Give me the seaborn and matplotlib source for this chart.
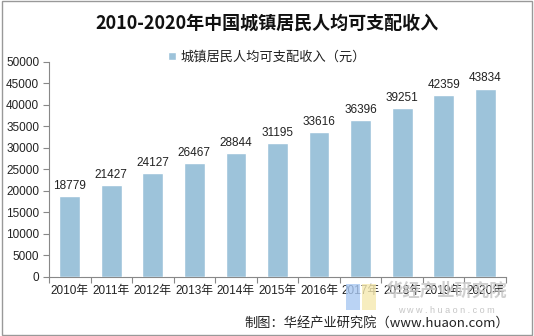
import matplotlib
matplotlib.use("Agg")
import matplotlib.pyplot as plt
import seaborn as sns
import pandas as pd
import numpy as np
from matplotlib.patches import Rectangle

years = ["2010年", "2011年", "2012年", "2013年", "2014年", "2015年",
         "2016年", "2017年", "2018年", "2019年", "2020年"]
income = [18779, 21427, 24127, 26467, 28844, 31195, 33616, 36396, 39251, 42359, 43834]
series_name = "城镇居民人均可支配收入（元）"
title = "2010-2020年中国城镇居民人均可支配收入"
source = "制图：华经产业研究院（www.huaon.com）"
yticks = list(range(0, 50001, 5000))

sns.set_theme(style="white")
plt.rcParams['font.family'] = ['Liberation Sans', 'Noto Sans CJK SC', 'DejaVu Sans']
plt.rcParams['axes.unicode_minus'] = False

df = pd.DataFrame({"year": years, "income": income})
bar_color = "#9DC3DA"

fig = plt.figure(figsize=(5.34, 3.36), dpi=100)
ax = fig.add_axes([0.0918, 0.1756, 0.8558, 0.6399])
sns.barplot(data=df, x="year", y="income", color=bar_color, width=0.5,
            ax=ax, saturation=1, label=series_name, zorder=3)

ax.set_ylim(0, 50000)
ax.set_xlim(-0.5, len(years) - 0.5)
ax.set_yticks(yticks)
ax.set_yticklabels([str(v) for v in yticks], fontsize=8.5, color="#222222")
ax.set_xticks(range(len(years)))
ax.set_xticklabels(years, fontsize=8.5, color="#222222")
ax.set_xticks(np.arange(-0.5, len(years), 1.0), minor=True)
ax.tick_params(axis="x", which="major", length=0, pad=6)
ax.tick_params(axis="x", which="minor", length=4, width=0.8, color="#888888", direction="out", bottom=True)
ax.tick_params(axis="y", which="major", length=4, width=0.8, color="#888888", direction="out", left=True, pad=3)
ax.set_xlabel("")
ax.set_ylabel("")
for s in ["top", "right"]:
    ax.spines[s].set_visible(False)
for s in ["left", "bottom"]:
    ax.spines[s].set_color("#888888")
    ax.spines[s].set_linewidth(0.8)

for c in ax.containers:
    ax.bar_label(c, labels=[str(v) for v in income], padding=3, fontsize=8.5, color="#222222")

leg = ax.legend(loc="upper center", bbox_to_anchor=(0.5 * (534 / 457) - 49 / 457, 1.075),
                frameon=False, fontsize=9.5, handlelength=0.6, handleheight=0.6,
                handletextpad=0.3, borderaxespad=0)
for t in leg.get_texts():
    t.set_color("#222222")

fig.text(0.5, 0.93, title, ha="center", va="center", fontsize=13, fontweight="bold",
         family=['Noto Sans CJK SC', 'DejaVu Sans'], color="#111111")

# watermark logo
fig.patches.append(Rectangle((346 / 534, 1 - 310 / 336), 14 / 534, 26 / 336, transform=fig.transFigure,
                             facecolor="#a9c8f2", edgecolor="none", alpha=0.8, zorder=5))
fig.patches.append(Rectangle((362 / 534, 1 - 310 / 336), 14 / 534, 26 / 336, transform=fig.transFigure,
                             facecolor="#f5e9b0", edgecolor="none", alpha=0.8, zorder=5))
fig.text(0.835, 0.135, "华经产业研究院", ha="center", va="center", fontsize=12.5,
         fontweight="bold", family=['Noto Sans CJK SC'], color="#c8c8c8", alpha=0.85)
fig.text(0.835, 0.075, "w w w . h u a o n . c o m", ha="center", va="center", fontsize=6.5,
         color="#bbbbbb", alpha=0.85)

fig.text(0.953, 0.038, source, ha="right", va="center", fontsize=9.5,
         family=['Noto Sans CJK SC', 'DejaVu Sans'], color="#222222")

fig.patches.append(Rectangle((0.004, 0.004), 0.992, 0.992, transform=fig.transFigure,
                             fill=False, edgecolor="#999999", linewidth=1.0))

fig.savefig("out.png", dpi=100)
